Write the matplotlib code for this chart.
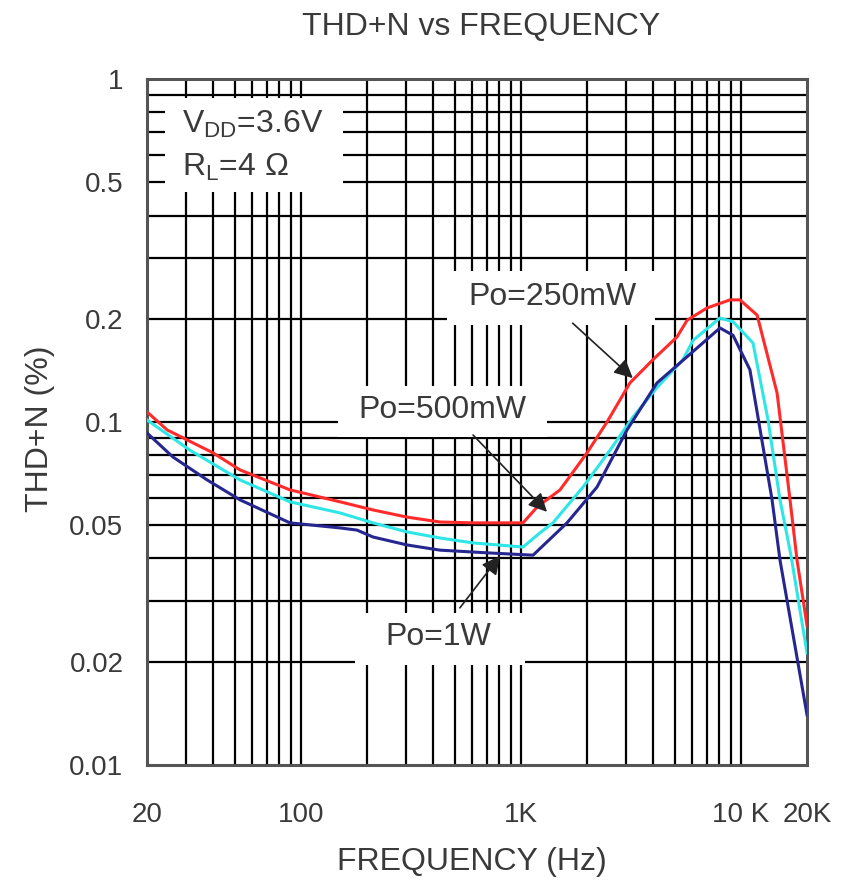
import matplotlib
matplotlib.use('Agg')
import matplotlib.pyplot as plt
from matplotlib.patches import Rectangle
from matplotlib.ticker import FixedLocator, NullFormatter

plt.rcParams['font.family'] = ['Liberation Sans', 'DejaVu Sans']
plt.rcParams['mathtext.fontset'] = 'custom'
plt.rcParams['mathtext.rm'] = 'Liberation Sans'

# ---- data (Hz, %) ----
freq_250 = [20, 24.7, 39.9, 52.9, 89.3, 151, 213, 304, 429, 607, 1024, 1186, 1508,
            2000, 2466, 3134, 3990, 5130, 5700, 7020, 8930, 9910, 11860, 14620,
            16740, 18010, 20000]
thd_250 = [0.107, 0.0948, 0.0813, 0.0725, 0.0634, 0.0585, 0.0554, 0.0528, 0.0511,
           0.0508, 0.0508, 0.0565, 0.0634, 0.0813, 0.100, 0.130, 0.152, 0.177,
           0.198, 0.215, 0.227, 0.227, 0.205, 0.1215, 0.0593, 0.0396, 0.0255]

freq_500 = [20, 31.3, 52.9, 89.3, 151, 213, 304, 429, 607, 1024, 1222, 1400, 1918,
            2546, 3236, 4160, 5460, 6070, 8040, 9220, 11360, 13300, 15070, 16900,
            20000]
thd_500 = [0.1014, 0.0828, 0.0678, 0.0585, 0.0543, 0.0508, 0.0478, 0.0459, 0.0444,
           0.0432, 0.0475, 0.0508, 0.0646, 0.0828, 0.1034, 0.126, 0.152, 0.173,
           0.201, 0.196, 0.170, 0.1014, 0.0593, 0.0409, 0.0212]

freq_1w = [20, 26.2, 37.5, 52.9, 89.3, 151, 180, 213, 304, 429, 724, 1137, 1622,
           2220, 3040, 4160, 5700, 8040, 9220, 11000, 13870, 15070, 20000]
thd_1w = [0.0929, 0.0791, 0.0678, 0.0593, 0.0508, 0.0491, 0.0484, 0.0462, 0.0438,
          0.0423, 0.0415, 0.0409, 0.0508, 0.0646, 0.0948, 0.130, 0.155, 0.188,
          0.179, 0.142, 0.0593, 0.0396, 0.0140]

xticks = [20, 100, 1000, 10000, 20000]
xtick_labels = ['20', '100', '1K', '10 K', '20K']
yticks = [0.01, 0.02, 0.05, 0.1, 0.2, 0.5, 1]
ytick_labels = ['0.01', '0.02', '0.05', '0.1', '0.2', '0.5', '1']

# grid positions: every integer multiple inside each decade
xgrid = [m * d for d in (10, 100, 1000) for m in range(2, 10)] + [100, 1000, 10000]
ygrid = [m * d for d in (0.01, 0.1) for m in range(2, 10)] + [0.1]

TXT = '#3a3a3a'
RED = '#ff2b2b'
CYAN = '#2fe6e6'
NAVY = '#262690'

fig = plt.figure(figsize=(8.41, 8.82), dpi=100)
ax = fig.add_axes([0.1748, 0.1327, 0.7848, 0.7777])

ax.set_xscale('log')
ax.set_yscale('log')
ax.set_xlim(20, 20000)
ax.set_ylim(0.01, 1)

ax.xaxis.set_major_locator(FixedLocator(xticks))
ax.set_xticklabels(xtick_labels)
ax.yaxis.set_major_locator(FixedLocator(yticks))
ax.set_yticklabels(ytick_labels)
ax.xaxis.set_minor_locator(FixedLocator([]))
ax.yaxis.set_minor_locator(FixedLocator([]))
ax.xaxis.set_minor_formatter(NullFormatter())
ax.yaxis.set_minor_formatter(NullFormatter())
ax.tick_params(length=0, labelsize=20, labelcolor=TXT)
ax.tick_params(axis='x', pad=27)
ax.tick_params(axis='y', pad=17)

for gx in xgrid:
    ax.axvline(gx, color='black', lw=1.6, zorder=0.5)
for gy in ygrid:
    ax.axhline(gy, color='black', lw=1.6, zorder=0.5)

for sp in ax.spines.values():
    sp.set_color('#555555')
    sp.set_linewidth(2.2)

# white label boxes that break the grid
boxes = [(0.027, 0.835, 0.270, 0.138),
         (0.4545, 0.641, 0.3155, 0.079),
         (0.289, 0.478, 0.317, 0.074),
         (0.315, 0.146, 0.258, 0.076)]
for bx, by, bw, bh in boxes:
    ax.add_patch(Rectangle((bx, by), bw, bh, transform=ax.transAxes,
                           facecolor='white', edgecolor='none', zorder=1))

ax.plot(freq_250, thd_250, color=RED, lw=2.2, zorder=3)
ax.plot(freq_500, thd_500, color=CYAN, lw=2.2, zorder=3)
ax.plot(freq_1w, thd_1w, color=NAVY, lw=2.2, zorder=3)

ax.text(0.053, 0.934, r'V$_{\mathregular{DD}}$=3.6V', transform=ax.transAxes,
        fontsize=23, color=TXT, ha='left', va='center', zorder=4)
ax.text(0.053, 0.872, r'R$_{\mathregular{L}}$=4 Ω', transform=ax.transAxes,
        fontsize=23, color=TXT, ha='left', va='center', zorder=4)
ax.text(0.614, 0.682, 'Po=250mW', transform=ax.transAxes,
        fontsize=23, color=TXT, ha='center', va='center', zorder=4)
ax.text(0.448, 0.517, 'Po=500mW', transform=ax.transAxes,
        fontsize=23, color=TXT, ha='center', va='center', zorder=4)
ax.text(0.441, 0.187, 'Po=1W', transform=ax.transAxes,
        fontsize=23, color=TXT, ha='center', va='center', zorder=4)

arrows = [((0.645, 0.644), (0.736, 0.564)),
          ((0.494, 0.481), (0.606, 0.369)),
          ((0.474, 0.229), (0.535, 0.305))]
for tail, tip in arrows:
    ax.annotate('', xy=tip, xytext=tail, xycoords='axes fraction',
                arrowprops=dict(arrowstyle='-|>', color='#222222', lw=1.2,
                                mutation_scale=28, shrinkA=0, shrinkB=0),
                zorder=4)

ax.set_xlabel('FREQUENCY (Hz)', fontsize=23, color=TXT)
ax.xaxis.set_label_coords(0.492, -0.119)
ax.set_ylabel('THD+N (%)', fontsize=23, color=TXT)
ax.yaxis.set_label_coords(-0.139, 0.49)
ax.set_title('THD+N vs FREQUENCY', fontsize=23, color=TXT, x=0.506, y=1.0, pad=32)

fig.savefig('out.png', dpi=100, facecolor='white')
